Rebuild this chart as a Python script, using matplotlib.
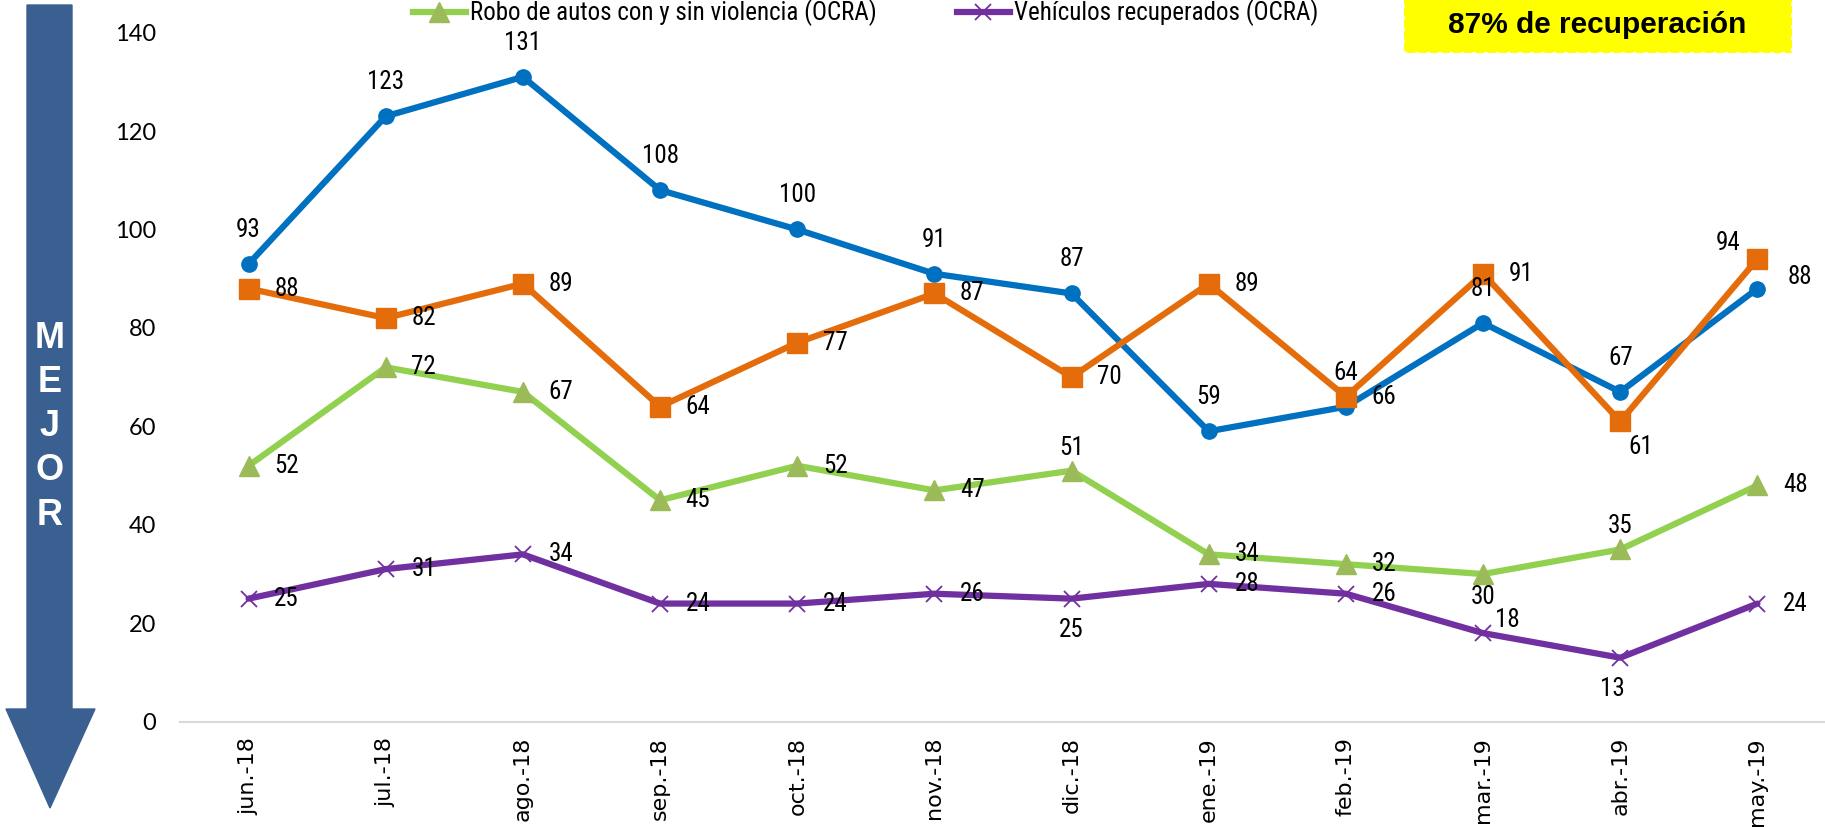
import matplotlib
matplotlib.use("Agg")
import matplotlib.pyplot as plt
from matplotlib import font_manager
from matplotlib.lines import Line2D
from matplotlib.patches import Polygon, Rectangle

# ============================================================
# DATA
# ============================================================
MESES = ["jun.-18", "jul.-18", "ago.-18", "sep.-18", "oct.-18", "nov.-18",
         "dic.-18", "ene.-19", "feb.-19", "mar.-19", "abr.-19", "may.-19"]
serie_azul = [93, 123, 131, 108, 100, 91, 87, 59, 64, 81, 67, 88]
serie_naranja = [88, 82, 89, 64, 77, 87, 70, 89, 66, 91, 61, 94]
robo_autos = [52, 72, 67, 45, 52, 47, 51, 34, 32, 30, 35, 48]
recuperados = [25, 31, 34, 24, 24, 26, 25, 28, 26, 18, 13, 24]
Y_TICKS = [0, 20, 40, 60, 80, 100, 120, 140]

# where each data label sits relative to its point
POS_AZUL = ["a"] * 11 + ["ru"]
POS_NARANJA = ["r"] * 10 + ["br", "al"]
POS_VERDE = ["r"] * 6 + ["a2", "r", "r", "b2", "a2", "r"]
POS_MORADO = ["r"] * 6 + ["b", "r", "r", "ru2", "bl", "r"]

# offsets in pixels (x right, y down)
OFFSETS = {
    "r": (38, 0), "a": (0, -34), "a2": (0, -23), "b": (0, 31), "b2": (0, 23),
    "ru": (42, -12), "al": (-29, -16), "br": (20, 26), "ru2": (24, -13), "bl": (-8, 31),
}

W, H, DPI = 1825, 827, 100


def pick_font(candidates):
    for name in candidates:
        try:
            font_manager.findfont(name, fallback_to_default=False)
            return name
        except Exception:
            continue
    return "DejaVu Sans"


NARROW = pick_font(["Liberation Sans Narrow", "Roboto Condensed", "Open Sans Condensed", "Roboto"])
ARIAL = pick_font(["Liberation Sans", "Arial", "DejaVu Sans"])
CALIBRI = pick_font(["Lato", "Open Sans", "DejaVu Sans"])

def fx(x):
    return x / W

def fy(y):
    return 1 - y / H

# ============================================================
# FIGURE
# ============================================================
fig = plt.figure(figsize=(W / DPI, H / DPI), dpi=DPI)
ax = fig.add_axes([fx(180), fy(721.7), (1826 - 180) / W, (721.7 - 32.6) / H])

x = list(range(len(MESES)))
series = [
    (serie_azul, "#0070C0", "o", "#0070C0", 11, POS_AZUL),
    (serie_naranja, "#E46C0A", "s", "#E46C0A", 15, POS_NARANJA),
    (robo_autos, "#92D050", "^", "#9BBB59", 15, POS_VERDE),
    (recuperados, "#7030A0", "x", "#7030A0", 11, POS_MORADO),
]
for vals, col, mk, mcol, ms, pos in series:
    ax.plot(x, vals, color=col, lw=4.5, marker=mk, markersize=ms,
            markerfacecolor=mcol, markeredgecolor=mcol,
            markeredgewidth=1.3 if mk == "x" else 1, solid_capstyle="round", zorder=3)
    for xi, v, p in zip(x, vals, pos):
        dx, dy = OFFSETS[p]
        ax.annotate(str(v), (xi, v), xytext=(dx * 72 / DPI, -dy * 72 / DPI),
                    textcoords="offset points", ha="center", va="center",
                    fontsize=18, family=NARROW, color="black", zorder=5,
                    annotation_clip=False)

ax.set_xlim(-0.5, len(MESES) - 0.5)
ax.set_ylim(0, 140)
ax.set_yticks(Y_TICKS)
ax.set_xticks(x)
ax.set_xticklabels(MESES, rotation=90, fontsize=16, family="DejaVu Sans")
for lab in ax.get_yticklabels():
    lab.set_fontsize(17)
    lab.set_family(CALIBRI)
ax.tick_params(axis="y", length=0, pad=17)
ax.tick_params(axis="x", length=0, pad=11)
for s in ["left", "top", "right"]:
    ax.spines[s].set_visible(False)
ax.spines["bottom"].set_color("#D9D9D9")
ax.spines["bottom"].set_linewidth(1.5)

# --- legend at the very top edge ---
h_verde = Line2D([], [], color="#92D050", lw=4.5, marker="^", markersize=15,
                 markerfacecolor="#9BBB59", markeredgecolor="#9BBB59")
h_morado = Line2D([], [], color="#7030A0", lw=4.5, marker="x", markersize=11,
                  markeredgewidth=1.3)
leg_kw = dict(loc="center left", frameon=False, borderpad=0, borderaxespad=0,
              handlelength=2.1, handletextpad=0.2,
              prop=font_manager.FontProperties(family=NARROW, size=18))
fig.legend([h_verde], ["Robo de autos con y sin violencia (OCRA)"],
           bbox_to_anchor=(fx(413), fy(13)), **leg_kw)
fig.legend([h_morado], ["Vehículos recuperados (OCRA)"],
           bbox_to_anchor=(fx(957), fy(13)), **leg_kw)

# --- yellow recovery box ---
fig.add_artist(Rectangle((fx(1404), fy(53)), (1792 - 1404) / W, 60 / H,
                         transform=fig.transFigure, facecolor="#FFFF00",
                         edgecolor="white", lw=1.5, linestyle=(0, (1.5, 4)), zorder=1))
fig.text(fx(1597), fy(25), "87% de recuperación", ha="center", va="center",
         fontsize=21.5, fontweight="bold", family=ARIAL, zorder=2)

# --- big "MEJOR" arrow on the left ---
arrow_px = [(27, 5), (72, 5), (72, 709), (95, 709), (50, 808), (6, 709), (27, 709)]
fig.add_artist(Polygon([(fx(a), fy(b)) for a, b in arrow_px], closed=True,
                       transform=fig.transFigure, facecolor="#3A6091",
                       edgecolor="#3A6091", zorder=1))
for i, letra in enumerate("MEJOR"):
    fig.text(fx(50), fy(338 + 44.3 * i), letra, ha="center", va="center",
             fontsize=26, fontweight="bold", family=ARIAL, color="white", zorder=2)

fig.savefig("out.png", dpi=DPI)
